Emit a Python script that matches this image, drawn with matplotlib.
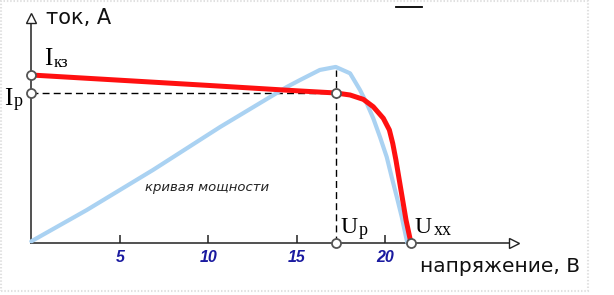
import matplotlib
matplotlib.use("Agg")
import matplotlib.pyplot as plt
from matplotlib.patches import Rectangle
from matplotlib.lines import Line2D

# I-V curve of the solar panel (current normalised to Iкз)
u_iv = [0, 5, 10, 15, 17.2, 18.01, 18.76, 19.32, 19.89, 20.23, 20.42, 20.60, 20.79, 20.98, 21.17, 21.45]
i_iv = [1.0, 0.969, 0.938, 0.906, 0.893, 0.881, 0.855, 0.811, 0.742, 0.673, 0.593, 0.494, 0.375, 0.256, 0.137, 0.0]

# power curve, scaled onto the current axis
u_pw = [0, 3.13, 6.88, 10.66, 14.44, 15.18, 16.3, 17.2, 18.01, 18.57, 18.95, 19.32, 19.70, 20.08, 20.36, 20.65, 20.93, 21.17, 21.25]
p_pw = [0.01, 0.196, 0.435, 0.690, 0.929, 0.970, 1.030, 1.048, 1.010, 0.911, 0.832, 0.742, 0.631, 0.512, 0.393, 0.274, 0.155, 0.036, 0.0]

ticks = [5, 10, 15, 20]
tick_labels = ["5", "10", "15", "20"]

u_p, i_p = 17.2, 0.893     # working point
i_sc = 1.0                 # short-circuit current
u_oc = 21.45               # open-circuit voltage
y_top = 1.369              # end of current axis
x_end = 27.55              # end of voltage axis
p_top = 1.03               # top of vertical dashed line

W, H = 614, 295
fig = plt.figure(figsize=(W / 100, H / 100), dpi=100)
ax = fig.add_axes([0, 0, 1, 1])
ax.set_xlim(-31.3 / 17.7, (W - 31.3) / 17.7)
ax.set_ylim((243 - H) / 168, 243 / 168)
ax.axis("off")


def at(x, y):
    # pixel position (from top-left) -> figure fraction
    return x / W, 1 - y / H


# faint dotted frame
fig.add_artist(Rectangle(at(1.5, 291), 586 / W, 290 / H, transform=fig.transFigure,
                         fill=False, ec="#e0e0e0", lw=1.5, ls=(0, (0.7, 0.9))))
fig.add_artist(Line2D([396 / W, 422 / W], [1 - 7 / H] * 2, transform=fig.transFigure,
                      color="black", lw=1.3))

# axes with open arrowheads
ax.plot([0, 0], [0, y_top - 0.04], color="#222222", lw=1.1, zorder=2)
ax.plot([0, x_end - 0.5], [0, 0], color="#222222", lw=1.1, zorder=2)
ax.plot([0], [y_top - 0.03], marker="^", ms=7, mfc="white", mec="#222222", mew=1.0, zorder=3)
ax.plot([x_end - 0.3], [0], marker=">", ms=7, mfc="white", mec="#222222", mew=1.0, zorder=3)
ax.vlines(ticks, 0, 0.045, color="#222222", lw=1.1)
for t, lab in zip(ticks, tick_labels):
    ax.text(t, -0.086, lab, ha="center", va="center", color="#1a1aa0",
            fontsize=11.5, fontweight="bold", fontstyle="italic", family="Liberation Sans")

# dashed guides
ax.plot([0, u_p], [i_p, i_p], color="black", lw=1.0, dashes=(5, 3), zorder=2)
ax.plot([u_p, u_p], [0, p_top], color="black", lw=1.0, dashes=(5, 3), zorder=2)

# curves
ax.plot(u_pw, p_pw, color="#aad2f2", lw=3.0, solid_joinstyle="round", solid_capstyle="round", zorder=4)
ax.plot(u_iv, i_iv, color="#ff1010", lw=3.6, solid_joinstyle="round", solid_capstyle="round", zorder=5)

# marked points
mx = [0, 0, u_p, u_p, u_oc]
my = [i_sc, i_p, i_p, 0, 0]
ax.plot(mx, my, ls="none", marker="o", ms=6.5, mfc="white", mec="#555555", mew=1.3, zorder=6)

# labels
ax.text(*at(46, 18), "ток, А", transform=fig.transFigure, ha="left", va="center",
        fontsize=15, family="DejaVu Sans", color="#111111")
ax.text(*at(420, 267), "напряжение, В", transform=fig.transFigure, ha="left", va="center",
        fontsize=14.5, family="DejaVu Sans", color="#111111")
ax.text(*at(207, 188), "кривая мощности", transform=fig.transFigure, ha="center", va="center",
        fontsize=9.5, fontstyle="italic", family="DejaVu Sans", color="#222222")

serif = "Liberation Serif"
ax.text(*at(44, 65), "I", transform=fig.transFigure, ha="left", va="baseline", fontsize=18, family=serif)
ax.text(*at(54, 67), "кз", transform=fig.transFigure, ha="left", va="baseline", fontsize=12, family=serif)
ax.text(*at(4, 105), "I", transform=fig.transFigure, ha="left", va="baseline", fontsize=18, family=serif)
ax.text(*at(14, 106), "р", transform=fig.transFigure, ha="left", va="baseline", fontsize=13, family=serif)
ax.text(*at(340, 233), "U", transform=fig.transFigure, ha="left", va="baseline", fontsize=17, family=serif)
ax.text(*at(359, 235), "р", transform=fig.transFigure, ha="left", va="baseline", fontsize=13, family=serif)
ax.text(*at(414, 233), "U", transform=fig.transFigure, ha="left", va="baseline", fontsize=17, family=serif)
ax.text(*at(434, 235), "xx", transform=fig.transFigure, ha="left", va="baseline", fontsize=13, family=serif)

fig.savefig("out.png", dpi=100)
